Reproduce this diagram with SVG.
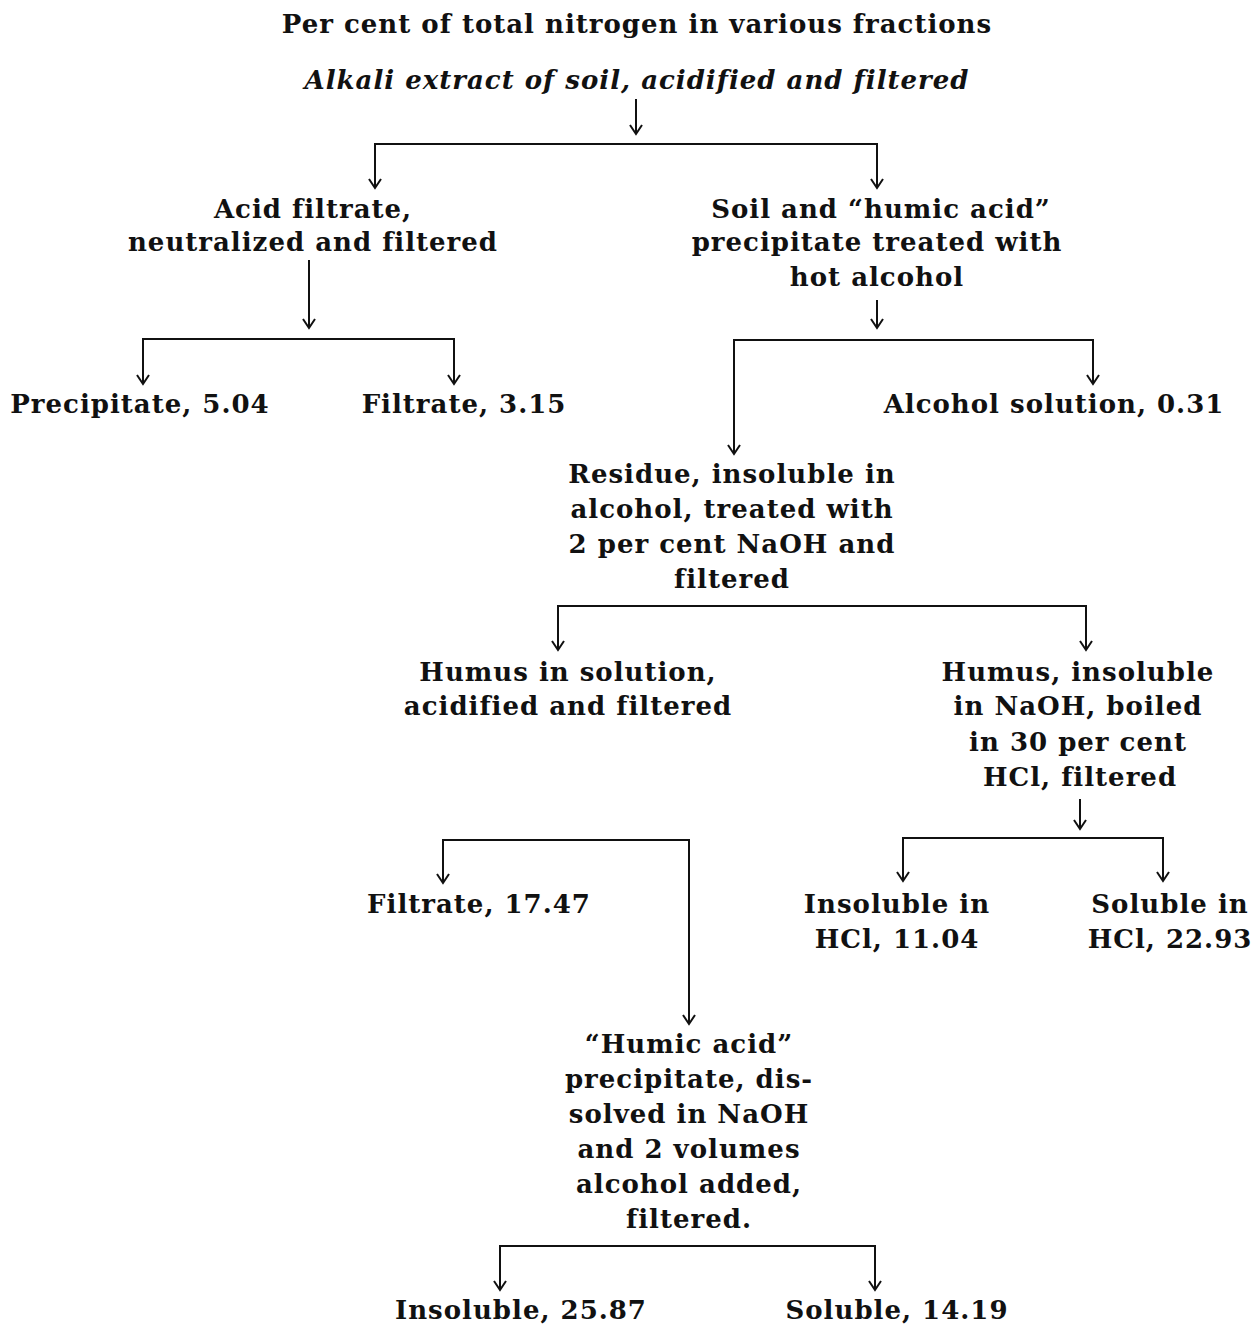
<svg xmlns="http://www.w3.org/2000/svg" width="1258" height="1325" viewBox="0 0 1258 1325">
<style>
.t{font-family:"DejaVu Serif","Liberation Serif",serif;font-size:26px;font-weight:bold;letter-spacing:1px;fill:#111;text-anchor:middle}
.i{font-style:italic}
.c{fill:none;stroke:#111;stroke-width:2}
</style>
<defs>
<marker id="ah" markerUnits="userSpaceOnUse" markerWidth="20" markerHeight="20" viewBox="-10 -10 20 20" refX="0" refY="0" orient="auto">
<path d="M-9,-6 L0,0 L-9,6" fill="none" stroke="#111" stroke-width="2"/>
</marker>
</defs>
<rect width="1258" height="1325" fill="#fff"/>
<g id="title"><text class="t" x="637" y="33">Per cent of total nitrogen in various fractions</text></g>
<g id="n0"><text class="t i" x="637" y="89">Alkali extract of soil, acidified and filtered</text></g>
<g id="n1"><text class="t" x="313" y="218">Acid filtrate,</text><text class="t" x="313" y="251">neutralized and filtered</text></g>
<g id="n2"><text class="t" x="881" y="218">Soil and “humic acid”</text><text class="t" x="877" y="251">precipitate treated with</text><text class="t" x="877" y="286">hot alcohol</text></g>
<g id="n3"><text class="t" x="140" y="413">Precipitate, 5.04</text></g>
<g id="n4"><text class="t" x="464" y="413">Filtrate, 3.15</text></g>
<g id="n5"><text class="t" x="1054" y="413">Alcohol solution, 0.31</text></g>
<g id="n6"><text class="t" x="732" y="483">Residue, insoluble in</text><text class="t" x="732" y="518">alcohol, treated with</text><text class="t" x="732" y="553">2 per cent NaOH and</text><text class="t" x="732" y="588">filtered</text></g>
<g id="n7"><text class="t" x="568" y="681">Humus in solution,</text><text class="t" x="568" y="715">acidified and filtered</text></g>
<g id="n8"><text class="t" x="1078" y="681">Humus, insoluble</text><text class="t" x="1078" y="715">in NaOH, boiled</text><text class="t" x="1078" y="751">in 30 per cent</text><text class="t" x="1080" y="786">HCl, filtered</text></g>
<g id="n9"><text class="t" x="479" y="913">Filtrate, 17.47</text></g>
<g id="n10"><text class="t" x="897" y="913">Insoluble in</text><text class="t" x="897" y="948">HCl, 11.04</text></g>
<g id="n11"><text class="t" x="1170" y="913">Soluble in</text><text class="t" x="1170" y="948">HCl, 22.93</text></g>
<g id="n12"><text class="t" x="689" y="1053">“Humic acid”</text><text class="t" x="689" y="1088">precipitate, dis-</text><text class="t" x="689" y="1123">solved in NaOH</text><text class="t" x="689" y="1158">and 2 volumes</text><text class="t" x="689" y="1193">alcohol added,</text><text class="t" x="689" y="1228">filtered.</text></g>
<g id="n13"><text class="t" x="521" y="1319">Insoluble, 25.87</text></g>
<g id="n14"><text class="t" x="897" y="1319">Soluble, 14.19</text></g>
<g id="connectors" class="c">
<path class="c" d="M636,99 V134" marker-end="url(#ah)"/>
<path class="c" d="M375,188 V144 H877 V188" marker-end="url(#ah)"/>
<path class="c" d="M375,144 V188" marker-end="url(#ah)"/>
<path class="c" d="M309,260 V328" marker-end="url(#ah)"/>
<path class="c" d="M143,384 V339 H454 V384" marker-end="url(#ah)"/>
<path class="c" d="M143,339 V384" marker-end="url(#ah)"/>
<path class="c" d="M877,300 V328" marker-end="url(#ah)"/>
<path class="c" d="M734,454 V340 H1093 V384" marker-end="url(#ah)"/>
<path class="c" d="M734,340 V454" marker-end="url(#ah)"/>
<path class="c" d="M558,650 V606 H1086 V650" marker-end="url(#ah)"/>
<path class="c" d="M558,606 V650" marker-end="url(#ah)"/>
<path class="c" d="M1080,799 V829" marker-end="url(#ah)"/>
<path class="c" d="M903,881 V838 H1163 V881" marker-end="url(#ah)"/>
<path class="c" d="M903,838 V881" marker-end="url(#ah)"/>
<path class="c" d="M443,883 V840 H689 V1024" marker-end="url(#ah)"/>
<path class="c" d="M443,840 V883" marker-end="url(#ah)"/>
<path class="c" d="M500,1290 V1246 H875 V1290" marker-end="url(#ah)"/>
<path class="c" d="M500,1246 V1290" marker-end="url(#ah)"/>
</g>
</svg>
